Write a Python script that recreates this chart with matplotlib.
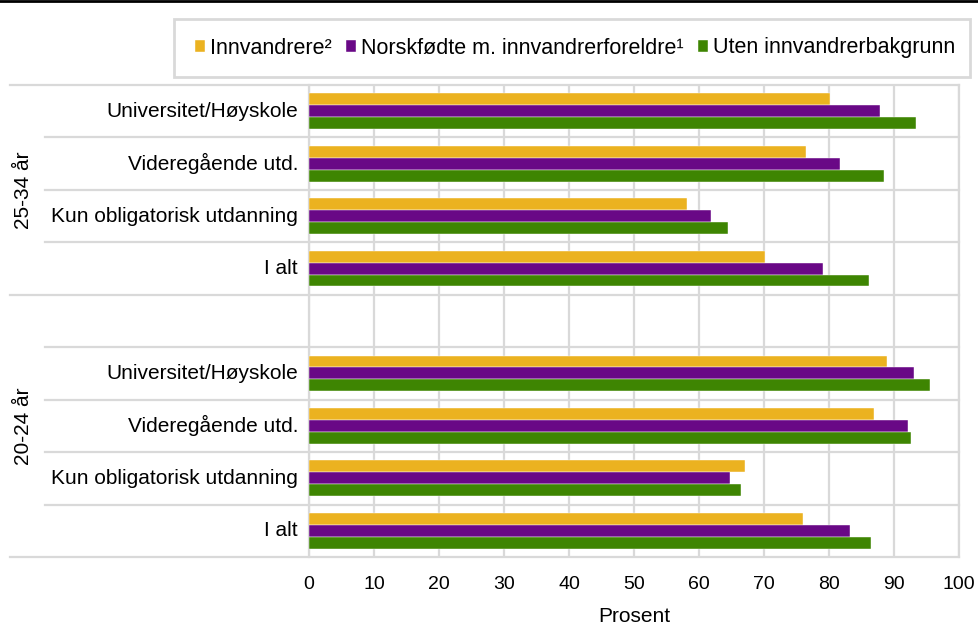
import matplotlib.pyplot as plt
from matplotlib.patches import Rectangle
from matplotlib.lines import Line2D
import numpy as np

plt.rcParams['font.family'] = ['Liberation Sans', 'DejaVu Sans']

categories = ["Universitet/Høyskole", "Videregående utd.", "Kun obligatorisk utdanning", "I alt"]
groups = ["25-34 år", "20-24 år"]
series = ["Innvandrere²", "Norskfødte m. innvandrerforeldre¹", "Uten innvandrerbakgrunn"]
colors = ["#EBB220", "#690886", "#3E8502"]

# values per group, in category order (top to bottom)
innv_25_34 = [80.1, 76.5, 58.1, 70.2]
norsk_25_34 = [87.8, 81.7, 61.8, 79.1]
uten_25_34 = [93.4, 88.4, 64.4, 86.2]
innv_20_24 = [89.0, 87.0, 67.0, 76.0]
norsk_20_24 = [93.1, 92.2, 64.7, 83.3]
uten_20_24 = [95.5, 92.6, 66.4, 86.4]

xticks = list(range(0, 101, 10))

fs = 15
fig = plt.figure(figsize=(9.79, 6.26), dpi=100)
L, R, T, B = 309, 959, 85, 557
ax = fig.add_axes([L/979, 1-B/626, (R-L)/979, (B-T)/626])

# slots from top: 0-3 first group, 4 blank (belongs to second group), 5-8 second group
slots_g1 = np.arange(4)
slots_g2 = np.arange(5, 9)
bh = 0.228
grid_c = "#d9d9d9"

for slots, vals in [(slots_g1, [innv_25_34, norsk_25_34, uten_25_34]),
                    (slots_g2, [innv_20_24, norsk_20_24, uten_20_24])]:
    for k, (v, c) in enumerate(zip(vals, colors)):
        ax.barh(slots + (k - 1) * bh, v, height=bh, color=c,
                edgecolor="#ffffff", linewidth=0.3, zorder=3,
                label=series[k] if slots[0] == 0 else None)

ax.set_ylim(8.5, -0.5)
ax.set_xlim(0, 100)
ax.set_xticks(xticks)
ax.set_yticks([])
ax.tick_params(axis='x', length=0, pad=14, labelsize=14)
ax.grid(axis='x', color=grid_c, linewidth=1.6, zorder=0)
for s in ax.spines.values():
    s.set_color(grid_c)
    s.set_linewidth(1.6)
ax.spines['top'].set_visible(False)
ax.spines['bottom'].set_visible(False)
ax.set_xlabel("Prosent", fontsize=fs, labelpad=10)

w = R - L
trans = ax.get_yaxis_transform()
x_outer = (10 - L) / w
x_inner = (45 - L) / w
# separators: group boundaries reach further left
for y in [-0.5, 3.5, 8.5]:
    ax.add_line(Line2D([x_outer, 1], [y, y], transform=trans, color=grid_c,
                       linewidth=1.6, clip_on=False, zorder=1))
for y in [0.5, 1.5, 2.5, 4.5, 5.5, 6.5, 7.5]:
    ax.add_line(Line2D([x_inner, 1], [y, y], transform=trans, color=grid_c,
                       linewidth=1.6, clip_on=False, zorder=1))

# category labels
for slots in [slots_g1, slots_g2]:
    for s, name in zip(slots, categories):
        ax.text(-11 / w, s, name, transform=trans, ha='right', va='center', fontsize=fs)

ax.text((23 - L) / w, 1.5, groups[0], transform=trans, rotation=90,
        ha='center', va='center', fontsize=fs)
ax.text((23 - L) / w, 6.0, groups[1], transform=trans, rotation=90,
        ha='center', va='center', fontsize=fs)

# legend with its own box
fig.patches.append(Rectangle((174/979, 1-77/626), 796/979, 58/626, transform=fig.transFigure,
                             facecolor='white', edgecolor=grid_c, linewidth=2))
handles, labels = ax.get_legend_handles_labels()
fig.legend(handles, labels, loc='center', bbox_to_anchor=(575/979, 1-48/626), ncol=3,
           frameon=False, handlelength=0.47, handleheight=0.47, handletextpad=0.23,
           columnspacing=0.65, fontsize=15.5)

# thin black rule at top of figure
fig.add_artist(Line2D([0, 1], [0.999, 0.999], transform=fig.transFigure, color='black', linewidth=2))

fig.savefig("out.png", dpi=100)
